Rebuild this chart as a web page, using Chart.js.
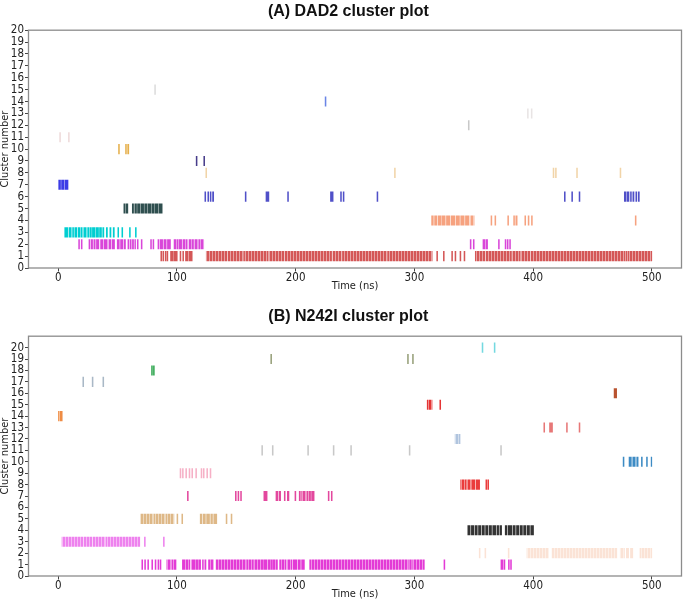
<!DOCTYPE html>
<html>
<head>
<meta charset="utf-8">
<script src="https://cdn.jsdelivr.net/npm/chart.js@4.4.1/dist/chart.umd.min.js"></script>
<style>
  html, body { margin: 0; padding: 0; background: #fff; }
  #wrapA { position: absolute; left: 0; top: 0; width: 683px; height: 300px; }
  #wrapB { position: absolute; left: 0; top: 300px; width: 683px; height: 301px; }
</style>
</head>
<body>
<div id="wrapA"><canvas id="chartA"></canvas></div>
<div id="wrapB"><canvas id="chartB"></canvas></div>
<script>
// Axis ticks
const clusterTicks = [0, 1, 2, 3, 4, 5, 6, 7, 8, 9, 10, 11, 12, 13, 14, 15, 16, 17, 18, 19, 20];
const timeTicks = [0, 100, 200, 300, 400, 500];

// (A) DAD2 - time runs [start, end] in ns for each cluster
const dad2C1 = [[86.4,87.2],[88.1,88.9],[90.1,90.9],[91.6,92.4],[94.6,97],[97.6,100.3],[102.6,103.4],[104.9,105.7],[107.2,109.5],[110.3,112.9],[124.7,142],[142.8,156],[156.8,176.7],[177.5,190],[190.8,230.3],[231.2,238.6],[239.4,276.6],[277.4,315],[318.8,319.6],[324.4,325.2],[331.4,332.2],[334.2,335],[338.4,339.2],[341.8,342.6],[351.3,359.4],[360.2,381.8],[382.6,388.8],[389.6,397.2],[398,477.5],[478.3,479.2],[480,500]];
const dad2C2 = [[17.2,18],[19.4,20.2],[25.9,26.8],[27.8,29],[30,31.2],[32.2,34.3],[35.7,37.5],[38.5,41.3],[42.7,44.5],[45.5,47.5],[49.7,51.5],[52.5,54.5],[55.5,56.7],[58.7,59.5],[60.5,61.5],[62.5,63.5],[64.5,65.2],[66.6,67.4],[69.9,70.7],[77.8,78.6],[79.8,80.6],[84,85],[86,88],[89,91],[92,94.6],[97.4,101],[101.8,104],[104.8,108.7],[110,114],[114.8,118],[118.8,122.6],[347,347.8],[349.6,350.4],[357.5,361.7],[370.8,371.6],[376.4,377.2],[378.2,379],[380.2,381]];
const dad2C3 = [[5.5,8],[8.8,12],[12.8,16],[16.8,20],[20.8,24],[24.8,28],[28.8,31],[31.8,34],[34.8,36.5],[37.5,38.5],[40.5,41.5],[43.5,44.5],[46.3,47.3],[50.2,51],[53.6,54.4],[60,60.8],[65,65.8]];
const dad2C4 = [[314.5,316],[317,319],[320,322.5],[323.2,326],[327,330],[331,334],[335,338],[339,342],[343,346],[347,350.3],[364.5,365.3],[367.8,368.6],[378.6,379.4],[383.6,384.4],[385.4,386.6],[393,393.8],[395.8,396.6],[398.6,399.4],[486,486.8]];
const dad2C5 = [[55.3,56.5],[57.3,58.7],[62.4,63.5],[64.5,66],[66.8,69],[69.8,72],[72.8,75],[75.8,78],[78.8,81],[81.8,84],[84.8,87.6]];
const dad2C6 = [[123.5,124.3],[126,126.8],[128,128.8],[130,131],[157.5,158.3],[175,177.5],[193.2,194],[229.3,231.6],[237.8,238.6],[240,240.8],[268.5,269.3],[426.3,427.1],[432.5,433.3],[438.7,439.5],[476.8,481],[482,482.8],[484,485],[486.5,487.3],[488.5,489.5]];
const dad2C7 = [[0,2],[2.8,5],[5.8,8.3]];
const dad2C8 = [[124.3,125.1],[283.2,284],[416.8,417.6],[418.8,419.6],[436.6,437.4],[473.2,474]];
const dad2C9 = [[116.2,117],[122.6,123.4]];
const dad2C10 = [[50.8,51.6],[56.7,57.5],[58.5,59.5]];
const dad2C11 = [[1.2,2],[8.6,9.4]];
const dad2C12 = [[345.4,346.2]];
const dad2C13 = [[395.2,396],[398.4,399.2]];
const dad2C14 = [[224.8,225.6]];
const dad2C15 = [[81.2,82]];

// (B) N242I - time runs [start, end] in ns for each cluster
const n242iC1 = [[70.4,71.2],[72.8,73.6],[75.4,76.2],[78.8,79.6],[81.6,82.4],[84,84.8],[85.8,86.6],[91.5,95],[95.8,99.5],[104.6,107],[107.8,111],[112.5,115],[115.8,117.5],[118.3,120],[121.5,122.3],[123.5,124.5],[126.6,128],[128.8,130.5],[132.9,158.4],[159,164.4],[165,172.3],[173,176],[177,178.6],[179.2,180.5],[181.2,184.7],[186.5,192],[193,197],[198,201],[202,204],[205,207.4],[211.8,295],[296,297.5],[298.5,308.4],[324.9,325.7],[372.6,376.3],[379.2,380],[381,381.8]];
const n242iC2 = [[354.6,355.4],[359.4,360.2],[379,379.8],[394.8,413],[415.9,470.6],[473.4,477],[478.5,480.5],[482,484],[490,500]];
const n242iC3 = [[3.2,21.2],[22,28.3],[29.1,39.5],[40.3,68.8],[72.6,73.4],[88.6,89.4]];
const n242iC4 = [[345,347],[348,350],[351,353],[354,356],[357,359],[360,362],[363,365],[366,368.5],[369.5,371],[372,373.5],[376.5,378],[379,382],[383,385],[386,388],[389,391],[392,394],[395,397],[398,400.4]];
const n242iC5 = [[69.4,80],[80.8,90],[90.8,97.5],[100,100.8],[104.1,104.9],[119.6,121],[122,124],[125,127.5],[128.5,130],[131,133.6],[141.4,142.2],[145.6,146.4]];
const n242iC6 = [];
const n242iC7 = [[108.8,109.6],[149.2,150],[151.4,152.2],[153.6,154.4],[173.2,176],[183.4,185],[186,187.4],[190.4,191.2],[193,194.4],[199.4,200.2],[203,204],[205,208.6],[209.4,212.6],[213.4,215.6],[227.4,228.2],[230,230.8]];
const n242iC8 = [[339,343.5],[344.2,348],[348.8,351],[352,355],[360.2,361],[361.8,362.6]];
const n242iC9 = [[102.6,103.4],[104.6,105.4],[107.4,108.2],[110.2,111],[112.5,113.3],[115.8,116.6],[120.3,121.1],[122.2,123],[125.1,125.9],[127.9,128.7]];
const n242iC10 = [[475.8,476.6],[480.8,482.2],[483,486.5],[487.3,488.5],[491.2,492],[495.5,496.3],[499.4,500]];
const n242iC11 = [[171.4,172.2],[180.3,181.1],[210.1,210.9],[231.6,232.4],[246.3,247.1],[295.6,296.4],[372.6,373.4]];
const n242iC12 = [[334.3,338.5]];
const n242iC13 = [[409,409.8],[413.8,416.4],[428.1,428.9],[438.7,439.5]];
const n242iC14 = [[0.2,3.8]];
const n242iC15 = [[310.8,314.9],[321.4,322.2]];
const n242iC16 = [[468.2,470.4]];
const n242iC17 = [[20.7,21.5],[28.6,29.4],[37.6,38.4]];
const n242iC18 = [[78.6,79.4],[80.2,81]];
const n242iC19 = [[179,179.8],[294.2,295],[298.4,299.2]];
const n242iC20 = [[357,357.8],[367.2,368]];

const dad2Runs = [dad2C1, dad2C2, dad2C3, dad2C4, dad2C5, dad2C6, dad2C7, dad2C8, dad2C9, dad2C10, dad2C11, dad2C12, dad2C13, dad2C14, dad2C15];
const n242iRuns = [n242iC1, n242iC2, n242iC3, n242iC4, n242iC5, n242iC6, n242iC7, n242iC8, n242iC9, n242iC10,
                   n242iC11, n242iC12, n242iC13, n242iC14, n242iC15, n242iC16, n242iC17, n242iC18, n242iC19, n242iC20];

// colours, cluster 1 first
const dad2Colors = ['#d45757', '#d946d9', '#00ced1', '#f6a27f', '#2f4f4f', '#5050c8', '#3c3ce6', '#f1d4a8',
                    '#483d8b', '#e6b04c', '#eedada', '#c8c8c8', '#e8e4e4', '#6a85e6', '#dcdcdc'];
const n242iColors = ['#e33bd6', '#fbe3d6', '#ee82ee', '#333333', '#deb887', '#999999', '#e3489e', '#ea3c3c',
                     '#f6b0c6', '#3d8bc4', '#c8c8c8', '#b0c4de', '#e77777', '#ef8c44', '#e53535', '#b9532f',
                     '#a9b8c6', '#34a853', '#97a07a', '#74d9e0'];

const labelFont = "'DejaVu Sans Condensed', 'Liberation Sans Narrow', 'DejaVu Sans', sans-serif";
const titleFont = "'Liberation Sans', Arial, sans-serif";

function tint(hex, f) {
  const n = parseInt(hex.slice(1), 16);
  const m = v => Math.round(v + (255 - v) * f);
  return `rgb(${m(n >> 16)},${m((n >> 8) & 255)},${m(n & 255)})`;
}

// dense runs get the striped look of many overlapping event lines
const patternCache = {};
function stripes(color) {
  if (!patternCache[color]) {
    const c = document.createElement('canvas');
    c.width = 3; c.height = 1;
    const g = c.getContext('2d');
    g.fillStyle = color; g.fillRect(0, 0, 3, 1);
    g.fillStyle = tint(color, 0.45); g.fillRect(2, 0, 1, 1);
    patternCache[color] = g.createPattern(c, 'repeat');
  }
  return patternCache[color];
}

function buildDatasets(runs, colors) {
  return runs.map((list, i) => ({
    data: list.map(r => ({ x: r, y: i + 1 })),
    backgroundColor: ctx => {
      const raw = ctx.raw;
      return raw && raw.x[1] - raw.x[0] > 3 ? stripes(colors[i]) : colors[i];
    },
    borderWidth: 0,
    grouped: false,
    barThickness: 9.5,
    inflateAmount: 0.3
  }));
}

// box round the plot area like matplotlib spines
const framePlugin = {
  id: 'frame',
  afterDraw(chart) {
    const { ctx, chartArea: a } = chart;
    ctx.save();
    ctx.strokeStyle = '#8c8c8c';
    ctx.lineWidth = 1.3;
    ctx.strokeRect(a.left, a.top, a.right - a.left, a.bottom - a.top);
    ctx.restore();
  }
};

function makeChart(id, title, runs, colors, yMax, titlePad, bottomPad) {
  const tickOpts = { font: { family: labelFont, size: 11.5, lineHeight: 1 }, color: '#222', padding: 1 };
  const gridOpts = { display: true, drawOnChartArea: false, drawTicks: true, tickLength: 3.5, tickColor: '#444', offset: false };
  return new Chart(document.getElementById(id), {
    type: 'bar',
    data: { datasets: buildDatasets(runs, colors) },
    options: {
      indexAxis: 'y',
      responsive: true,
      maintainAspectRatio: false,
      animation: false,
      layout: { padding: { left: 0, right: 1.5, top: 0, bottom: bottomPad } },
      plugins: {
        legend: { display: false },
        tooltip: { enabled: false },
        title: {
          display: true,
          text: title,
          fullSize: false,
          color: '#111',
          font: { family: titleFont, size: 16, weight: 'bold', lineHeight: 1.2 },
          padding: titlePad
        }
      },
      scales: {
        x: {
          type: 'linear',
          min: -25,
          max: 525,
          afterBuildTicks: ax => { ax.ticks = timeTicks.map(v => ({ value: v })); },
          afterFit: ax => { ax.height = 25; },
          ticks: { ...tickOpts, maxRotation: 0, autoSkip: false },
          grid: gridOpts,
          border: { display: false },
          title: { display: true, text: 'Time (ns)', color: '#222',
                   font: { family: labelFont, size: 11, lineHeight: 1.2 }, padding: 0 }
        },
        y: {
          type: 'linear',
          min: 0,
          max: yMax,
          offset: false,
          afterBuildTicks: ax => { ax.ticks = clusterTicks.map(v => ({ value: v })); },
          afterFit: ax => { ax.width = 28.5; },
          ticks: { ...tickOpts, autoSkip: false },
          grid: gridOpts,
          border: { display: false },
          title: { display: true, text: 'Cluster number', color: '#222',
                   font: { family: labelFont, size: 11, lineHeight: 1 }, padding: 0 }
        }
      }
    },
    plugins: [framePlugin]
  });
}

makeChart('chartA', '(A) DAD2 cluster plot   ', dad2Runs, dad2Colors, 20, { top: 2, bottom: 9 }, 7);
makeChart('chartB', '(B) N242I cluster plot   ', n242iRuns, n242iColors, 21, { top: 7, bottom: 10 }, 0);
</script>
</body>
</html>
